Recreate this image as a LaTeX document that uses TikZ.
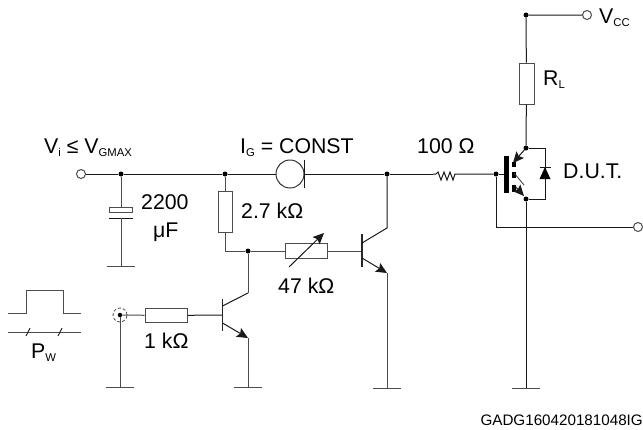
\documentclass[tikz,border=0pt]{standalone}
\usepackage{fontspec}
\setmainfont{Liberation Sans}
\usetikzlibrary{arrows.meta}
\newcommand{\mainfs}{\fontsize{21.3}{25}\selectfont}
\newcommand{\subt}[1]{\raisebox{-3pt}{\fontsize{11.3}{12}\selectfont #1}}
\tikzset{
  wire/.style={line width=1pt,draw=black!90},
  gwire/.style={line width=1pt,draw=black!70},
  box/.style={draw=black!70,line width=1pt,fill=white},
  jn/.style={circle,fill=black,inner sep=0pt,minimum size=5pt},
  term/.style={circle,draw=black!70,line width=1pt,fill=white,inner sep=0pt,minimum size=9pt},
  lab/.style={font=\mainfs,inner sep=0pt,anchor=base west},
  tip/.style={-{Stealth[length=11pt,width=10pt,inset=2pt]}},
  bar/.style={line width=1.1pt,draw=black!85},
}
\begin{document}
\begin{tikzpicture}[x=1pt,y=-1pt]
\useasboundingbox (0,0) rectangle (643,429);
% junctions and terminals
\node[term] (vi) at (81,174) {};
\node[jn] (j1) at (121,174) {};
\node[jn] (j2) at (225,174) {};
\node[jn] (j3) at (387,174) {};
\node[jn] (j4) at (496,174) {};
\node[jn] (j5) at (248,251) {};
\node[jn] (jc) at (526,148) {};
\node[jn] (je) at (526,199) {};
\node[jn] (jv) at (526,15) {};
\node[term] (vcc) at (587,15) {};
\node[term] (out) at (638,227) {};
\node[jn,minimum size=4.5pt] (jp) at (120,315) {};
\node[circle,draw=black!70,dashed,dash pattern=on 3pt off 2pt,line width=.8pt,minimum size=14pt,inner sep=0pt] (pc) at (120,315) {};
% grounds
\coordinate (g1) at (121,266);
\coordinate (g2) at (120,387);
\coordinate (g3) at (248,387);
\coordinate (g4) at (387,388);
\coordinate (g5) at (526,388);
\foreach \g in {g1,g2,g3,g4,g5}{\draw[gwire] ([xshift=-14pt]\g) -- ([xshift=14pt]\g);}
% top line
\node[circle,draw=black!80,line width=1pt,minimum size=28pt,inner sep=0pt] (src) at (290,174) {};
\coordinate (srcb) at (304,174);
\draw[wire] (vi) -- (j1) -- (j2) -- (src.west);
\draw[wire] (304,160) -- (304,188);
\draw[wire] (srcb) -- (j3) -- (433,174);
\draw[wire] (433,174) -- (436,174) -- (438,172) -- (441,180) -- (444,172) -- (447,180) -- (450,172) -- (453,180) -- (455,174) -- (j4);
% capacitor
\node[box,minimum width=23pt,minimum height=5pt,inner sep=0pt] (cp) at (121,209.5) {};
\coordinate (cm) at (121,218);
\draw[gwire] (j1) -- (cp);
\draw[wire] (109,218) -- (133,218);
\draw[gwire] (cm) -- (g1);
% 2.7k
\node[box,minimum width=14pt,minimum height=41pt,inner sep=0pt] (r1) at (225,211.5) {};
\draw[gwire] (j2) -- (r1);
\draw[gwire] (r1.south) |- (j5);
% var res
\node[box,minimum width=42pt,minimum height=15pt,inner sep=0pt] (r2) at (306,251) {};
\coordinate (b2) at (362,251);
\draw[gwire] (j5) -- (r2) -- (b2);
\coordinate (va) at (289,267);
\coordinate (vb) at (324,233);
\draw[wire,tip] (va) -- (vb);
% T2
\draw[bar] (362,234) -- (362,267);
\coordinate (c2) at (387,228);
\coordinate (e2) at (387,273);
\draw[wire] (362,243) -- (c2) -- (j3);
\draw[wire,tip] (362,258) -- (e2);
\draw[gwire] (e2) -- (g4);
% T1
\node[box,minimum width=42pt,minimum height=14pt,inner sep=0pt] (r3) at (166,315.5) {};
\coordinate (b1) at (222,315);
\draw[gwire] (jp) -- (r3);
\draw[wire] (r3) -- (b1);
\draw[gwire] (jp) -- (g2);
\draw[bar] (222.5,299) -- (222.5,331);
\coordinate (c1) at (248,293);
\coordinate (e1) at (248,338);
\draw[wire] (222.5,306) -- (c1);
\draw[gwire] (c1) -- (j5);
\draw[wire,tip] (222.5,323) -- (e1);
\draw[gwire] (e1) -- (g3);
% IGBT
\draw[wire] (j4) -- (504,174);
\fill[black] (504,156) rectangle (509,193);
\fill[black] (512,162) rectangle (516,167);
\fill[black] (512,172) rectangle (516,178);
\fill[black] (512,185) rectangle (516,192);
\draw[wire,tip] (jc) -- (513,163);
\draw[line width=.8pt,draw=black!80] (514,173) -- (524,185);
\draw[wire,tip] (514,185) -- (524,196);
\draw[wire] (jc) -| (545,199) -- (je);
\fill[black] (545,167) -- (539.5,179) -- (550.5,179) -- cycle;
\draw[wire] (539.5,167) -- (550.5,167);
\draw[wire] (j4) |- (out);
\draw[wire] (je) -- (g5);
% RL
\node[box,minimum width=15pt,minimum height=41pt,inner sep=0pt] (rl) at (526.5,83.5) {};
\draw[wire] (jc) -- (rl);
\draw[wire] (rl) -- (jv) -- (vcc);
% pulse
\coordinate (p0) at (8,313);
\coordinate (p1) at (81,313);
\coordinate (w0) at (8,332);
\coordinate (w1) at (81,332);
\draw[gwire] (p0) -- (26,313) -- (26,290) -- (63,290) -- (63,313) -- (p1);
\draw[gwire] (w0) -- (w1);
\draw[wire,line width=.9pt] (26,336) -- (30,328);
\draw[wire,line width=.9pt] (58,336) -- (62,328);
% labels
\node[lab] (tvi) at (44,153) {V\subt{i} ≤ V\subt{GMAX}};
\node[lab] (tig) at (240,153) {I\subt{G} = CONST};
\node[lab] (t100) at (417,153) {100 Ω};
\node[lab] (t22a) at (141,209) {2200};
\node[lab] (t22b) at (153,237) {μF};
\node[lab] (t27) at (241,218) {2.7 kΩ};
\node[lab] (t47) at (278,293) {47 kΩ};
\node[lab] (t1k) at (144,348) {1 kΩ};
\node[lab] (tpw) at (31,358) {P\subt{W}};
\node[lab] (trl) at (543,85) {R\subt{L}};
\node[lab] (tdut) at (563,178) {D.U.T.};
\node[lab] (tvcc) at (599,23) {V\subt{CC}};
\node[inner sep=0pt,anchor=base east,font=\fontsize{15.2}{17}\selectfont] (tid) at (643,425) {GADG160420181048IG};
\end{tikzpicture}
\end{document}
